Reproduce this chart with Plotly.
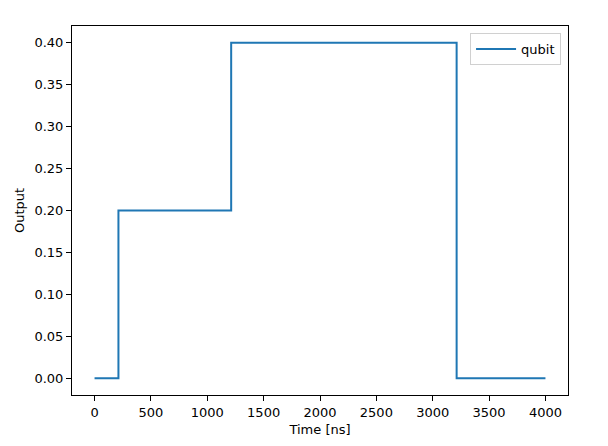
"""Qubit output pulse sequence"""
import plotly.graph_objects as go

# step edges of the pulse sequence (ns) and the output level held from each edge
time_ns = [0, 212, 1212, 3212, 4000]
output = [0.0, 0.2, 0.4, 0.0, 0.0]
series_name = 'qubit'

x_ticks = [0, 500, 1000, 1500, 2000, 2500, 3000, 3500, 4000]
y_ticks = [0.0, 0.05, 0.10, 0.15, 0.20, 0.25, 0.30, 0.35, 0.40]

FONT_FAMILY = 'DejaVu Sans'
FONT_SIZE = 13
LINE_COLOR = '#1f77b4'

fig = go.Figure()

fig.add_trace(go.Scatter(
    name=series_name,
    x=time_ns,
    y=output,
    mode='lines',
    line=dict(color=LINE_COLOR, width=2, shape='hv'),
))

axis_style = dict(
    showline=True,
    linecolor='black',
    linewidth=1,
    mirror=True,
    showgrid=False,
    zeroline=False,
    automargin=False,
    ticks='outside',
    ticklen=5,
    tickwidth=1,
    tickcolor='black',
    tickfont=dict(family=FONT_FAMILY, size=FONT_SIZE, color='black'),
)

# the page body adds an 8px margin, so the figure is 16px smaller than the window
fig.update_layout(
    width=592,
    height=430,
    margin=dict(l=64, r=32, t=18, b=43),
    paper_bgcolor='white',
    plot_bgcolor='white',
    font=dict(family=FONT_FAMILY, size=FONT_SIZE, color='black'),
    showlegend=True,
    legend=dict(
        x=0.986, y=0.981, xanchor='right', yanchor='top',
        bgcolor='rgba(255,255,255,0.8)',
        bordercolor='#d0d0d0', borderwidth=1,
        itemwidth=40,
        font=dict(family=FONT_FAMILY, size=FONT_SIZE, color='black'),
    ),
    xaxis=dict(
        title=dict(text='Time [ns]', standoff=6,
                   font=dict(family=FONT_FAMILY, size=FONT_SIZE, color='black')),
        range=[-200, 4200],
        tickvals=x_ticks,
        **axis_style,
    ),
    yaxis=dict(
        title=dict(text='Output', standoff=6,
                   font=dict(family=FONT_FAMILY, size=FONT_SIZE, color='black')),
        range=[-0.02, 0.42],
        tickvals=y_ticks,
        tickformat='.2f',
        **axis_style,
    ),
)

fig.write_html("out.html")
